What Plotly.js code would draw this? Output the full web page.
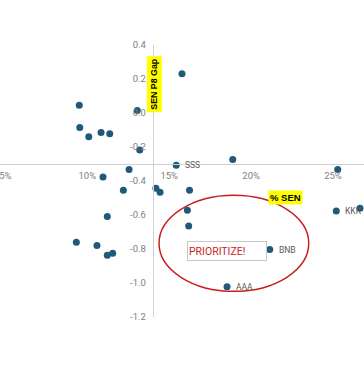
<!DOCTYPE html>
<html>
<head>
<meta charset="utf-8">
<script src="https://cdn.plot.ly/plotly-3.0.1.min.js"></script>
<style>html,body{margin:0;padding:0;background:#fff;}#chart{width:364px;height:365px;}</style>
</head>
<body>
<div id="chart"></div>
<script>
// % SEN (fraction)
var senPct = [0.0951,0.0954,0.1009,0.1084,0.1137,0.1305,0.1320,0.1255,0.1543,0.1578,0.1888,0.2529,
              0.1096,0.1220,0.1419,0.1444,0.1122,0.0933,0.1059,0.1122,0.1155,0.1624,0.1611,0.1619,
              0.2114,0.1853,0.2520,0.2665];
// SEN P8 Gap
var p8Gap = [0.045,-0.085,-0.140,-0.114,-0.122,0.015,-0.218,-0.332,-0.307,0.231,-0.273,-0.332,
             -0.377,-0.454,-0.442,-0.466,-0.609,-0.760,-0.780,-0.837,-0.825,-0.454,-0.572,-0.664,
             -0.803,-1.022,-0.576,-0.560];
var pointLabels = ['','','','','','','','','SSS','','','',
                   '','','','','','','','','','','','',
                   'BNB','AAA','KKK',''];
var xTickVals = [0.05,0.10,0.15,0.20,0.25];
var xTickText = ['5%','10%','15%','20%','25%'];
var yTickVals = [0.4,0.2,0.0,-0.2,-0.4,-0.6,-0.8,-1.0,-1.2];
var yTickText = ['0.4','0.2','0.0','-0.2','-0.4','-0.6','-0.8','-1.0','-1.2'];

var xRange = [0.0467, 0.26893];
var yRange = [-1.2, 0.4];
var xCross = -0.3;   // x axis crosses y at this value
var yCross = 0.14;   // y axis crosses x at this value

var labelAnns = [];
pointLabels.forEach(function (lab, i) {
  if (!lab) return;
  labelAnns.push({
    text: lab, x: senPct[i], y: p8Gap[i], xref: 'x', yref: 'y',
    xanchor: 'left', yanchor: 'middle', xshift: 7, showarrow: false,
    font: {family: 'Roboto, sans-serif', size: 8.5, color: '#595959'}
  });
});

var trace = {
  x: senPct, y: p8Gap,
  type: 'scatter', mode: 'markers',
  marker: {color: '#1f5a78', size: 7},
  hoverinfo: 'x+y', cliponaxis: false
};

var layout = {
  width: 364, height: 365,
  margin: {l: 0, r: 0, t: 45, b: 48, pad: 0},
  paper_bgcolor: '#ffffff', plot_bgcolor: '#ffffff',
  showlegend: false,
  xaxis: {
    range: xRange, anchor: 'free',
    position: (xCross - yRange[0]) / (yRange[1] - yRange[0]),
    tickvals: xTickVals, ticktext: xTickText,
    showgrid: false, zeroline: false, showline: true, linecolor: '#d0d0d0', linewidth: 1,
    ticks: '', ticklabelstandoff: 3, ticklabeloverflow: 'allow',
    tickfont: {family: 'Roboto, sans-serif', size: 9.5, color: '#808080'}
  },
  yaxis: {
    range: yRange, anchor: 'free',
    position: (yCross - xRange[0]) / (xRange[1] - xRange[0]),
    tickvals: yTickVals, ticktext: yTickText,
    showgrid: false, zeroline: false, showline: true, linecolor: '#d0d0d0', linewidth: 1,
    ticks: '', ticklabelstandoff: 5, ticklabeloverflow: 'allow',
    tickfont: {family: 'Roboto, sans-serif', size: 9.5, color: '#808080'}
  },
  shapes: [{
    type: 'circle', xref: 'x', yref: 'y',
    x0: 0.1438, x1: 0.2352, y0: -1.049, y1: -0.484,
    line: {color: '#c81e1e', width: 1.5}
  }],
  annotations: labelAnns.concat([
    {text: '<b>SEN P8 Gap</b>', xref: 'paper', yref: 'paper', x: 0.4245, y: 0.856,
     xanchor: 'center', yanchor: 'middle',
     textangle: -90, showarrow: false, bgcolor: '#ffff00', borderpad: 2,
     font: {family: 'Liberation Sans, Arial, sans-serif', size: 8.8, color: '#000'}},
    {text: '<b>% SEN</b>', xref: 'paper', yref: 'paper', x: 0.7843, y: 0.4387,
     xanchor: 'center', yanchor: 'middle',
     showarrow: false, bgcolor: '#ffff00', borderpad: 1,
     font: {family: 'Liberation Sans, Arial, sans-serif', size: 9.5, color: '#000'}},
    {text: 'PRIORITIZE!', xref: 'paper', yref: 'paper', x: 0.6225, y: 0.2416,
     xanchor: 'center', yanchor: 'middle',
     showarrow: false, bgcolor: '#ffffff', bordercolor: '#c8c8c8', borderwidth: 1,
     width: 76, height: 16, align: 'left', borderpad: 1,
     font: {family: 'Roboto, sans-serif', size: 10.5, color: '#c62828'}}
  ])
};

Plotly.newPlot('chart', [trace], layout, {displayModeBar: false, staticPlot: true});
</script>
</body>
</html>
